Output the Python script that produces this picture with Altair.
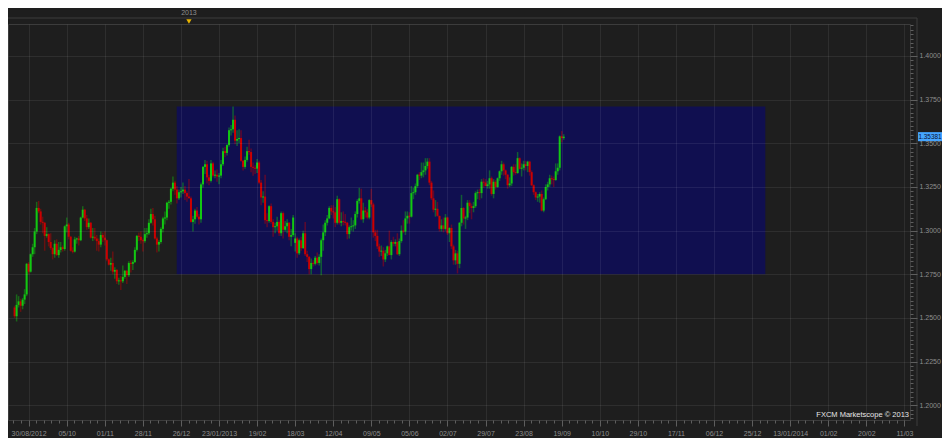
import altair as alt
import pandas as pd
import numpy as np

# ---------------- data (EUR/USD daily, prices in 1/10000) ----------------
OPEN = [12560,12510,12575,12595,12570,12605,12635,12810,12765,12865,12905,12995,13130,13110,13050,13045,12970,12980,12935,12900,
        12865,12925,12860,12890,12905,12895,13025,13035,12965,12885,12880,12950,12955,12945,13075,13120,13070,13020,13045,12960,
        12965,12955,12940,12920,12975,12960,12945,12835,12805,12815,12765,12775,12710,12715,12710,12735,12770,12745,12815,12810,
        12820,12890,12970,12965,12945,12940,12980,12985,13045,13095,13065,12955,12920,12935,13010,13070,13075,13160,13165,13240,
        13275,13235,13185,13220,13225,13235,13215,13195,13185,13050,13065,13115,13080,13065,13265,13365,13380,13305,13285,13385,
        13315,13320,13310,13315,13380,13455,13445,13490,13575,13580,13635,13515,13525,13530,13400,13365,13405,13455,13450,13365,
        13360,13355,13390,13275,13190,13195,13060,13055,13140,13050,13020,13025,13050,12985,13100,13005,13025,13045,12965,12975,
        12930,12955,12870,12945,12900,12985,12865,12850,12780,12815,12810,12845,12815,12850,12945,12990,13045,13070,13130,13110,
        13105,13045,13180,13045,13055,13050,13045,12980,13020,13025,13030,13095,13170,13185,13065,13115,13105,13075,13175,13150,
        12990,12970,12910,12880,12885,12835,12870,12910,12860,12935,12925,12935,12865,12940,13000,12995,13070,13085,13080,13215,
        13220,13255,13320,13315,13335,13345,13370,13395,13275,13185,13120,13125,13085,13010,13030,13010,13075,12985,13015,12910,
        12830,12870,12810,13045,13130,13070,13075,13160,13140,13130,13140,13215,13220,13215,13280,13275,13255,13265,13300,13210,
        13280,13250,13300,13340,13380,13345,13320,13260,13270,13365,13335,13330,13415,13355,13360,13380,13370,13395,13335,13260,
        13220,13190,13195,13210,13115,13180,13250,13265,13300,13295,13290,13340,13360,13540,13530]
HIGH = [12570,12635,12625,12610,12615,12665,12815,12820,12870,12925,13015,13165,13170,13125,13080,13050,13020,12985,12985,12905,
        12945,12950,12935,12935,12915,13030,13075,13045,12970,12905,12965,12960,12970,13080,13140,13125,13090,13070,13050,13015,
        13015,12975,12955,12995,12990,12995,12950,12840,12845,12880,12790,12780,12730,12740,12800,12775,12775,12825,12830,12830,
        12905,12975,12990,12995,12955,13015,13015,13065,13125,13130,13085,12965,12945,13020,13080,13110,13165,13175,13245,13310,
        13285,13255,13235,13250,13275,13255,13225,13295,13195,13085,13125,13135,13095,13275,13370,13405,13400,13320,13405,13395,
        13345,13350,13330,13405,13475,13480,13495,13590,13605,13711,13660,13575,13580,13575,13405,13425,13480,13520,13470,13390,
        13375,13410,13400,13290,13225,13320,13100,13145,13155,13065,13045,13080,13060,13110,13110,13055,13065,13050,13010,13090,
        12985,12965,12955,12965,13000,13050,12885,12855,12840,12830,12855,12875,12865,12955,13035,13060,13090,13140,13145,13145,
        13135,13200,13185,13105,13110,13095,13050,13030,13075,13060,13110,13180,13245,13240,13160,13135,13125,13180,13240,13160,
        13005,13005,12925,12915,12905,12890,12915,13000,12945,12965,12950,12985,12955,13030,13060,13110,13110,13105,13255,13245,
        13270,13325,13335,13390,13390,13415,13415,13415,13285,13230,13175,13165,13085,13065,13075,13095,13080,13020,13035,12920,
        12890,12885,13050,13205,13135,13085,13175,13175,13155,13165,13225,13235,13240,13295,13300,13295,13285,13345,13310,13295,
        13290,13305,13345,13400,13390,13350,13325,13305,13370,13380,13380,13450,13420,13385,13400,13400,13400,13400,13345,13265,
        13225,13210,13220,13230,13190,13265,13280,13320,13315,13310,13385,13385,13545,13570,13552]
LOW = [12500,12480,12560,12535,12550,12580,12625,12750,12760,12850,12865,12980,13100,13035,12985,12885,12960,12910,12890,12835,
       12845,12855,12845,12875,12880,12885,12990,12950,12880,12870,12875,12925,12915,12940,13070,13055,13005,13010,12955,12940,
       12945,12885,12880,12905,12935,12915,12825,12800,12770,12750,12725,12695,12690,12660,12700,12725,12695,12735,12760,12775,
       12815,12880,12940,12925,12880,12930,12960,12975,13040,13030,12950,12875,12880,12925,12990,13035,13060,13125,13150,13225,
       13205,13155,13175,13190,13210,13175,13165,13185,13045,12995,13040,13070,13035,13045,13245,13325,13270,13260,13275,13305,
       13300,13280,13265,13300,13370,13420,13430,13480,13545,13560,13495,13485,13500,13395,13345,13355,13395,13435,13335,13315,
       13325,13330,13265,13145,13160,13040,13020,13045,13040,12965,12985,13000,12970,12970,12955,12995,12985,12945,12910,12965,
       12880,12845,12860,12885,12895,12855,12820,12750,12750,12795,12800,12805,12800,12745,12885,12970,13030,13065,13090,13070,
       13020,13035,13035,13025,13030,13030,12950,12955,13000,12995,13010,13075,13155,13060,13045,13075,13065,13065,13135,12960,
       12940,12895,12850,12855,12795,12820,12855,12860,12835,12910,12910,12860,12855,12930,12985,12975,13040,13040,13075,13180,
       13205,13245,13290,13300,13305,13320,13355,13260,13175,13105,13080,13080,12995,12995,12990,13000,12975,12935,12895,12805,
       12805,12755,12785,13025,13035,13010,13060,13100,13065,13105,13130,13180,13175,13185,13245,13255,13240,13240,13200,13185,
       13235,13245,13285,13320,13315,13295,13240,13250,13255,13315,13320,13325,13350,13310,13345,13345,13335,13315,13255,13205,
       13175,13165,13160,13110,13105,13175,13230,13250,13265,13250,13285,13320,13345,13505,13520]
CLOSE = [12510,12575,12595,12570,12605,12635,12810,12765,12865,12905,12995,13130,13110,13050,13045,12970,12980,12935,12900,12865,
         12925,12860,12890,12905,12895,13025,13035,12965,12885,12880,12950,12955,12945,13075,13120,13070,13020,13045,12960,12965,
         12955,12940,12920,12975,12960,12945,12835,12805,12815,12765,12775,12710,12715,12710,12735,12770,12745,12815,12810,12820,
         12890,12970,12965,12945,12940,12980,12985,13045,13095,13065,12955,12920,12935,13010,13070,13075,13160,13165,13240,13275,
         13235,13185,13220,13225,13235,13215,13195,13185,13050,13065,13115,13080,13065,13265,13365,13380,13305,13285,13385,13315,
         13320,13310,13315,13380,13455,13445,13490,13575,13580,13635,13515,13525,13530,13400,13365,13405,13455,13450,13365,13360,
         13355,13390,13275,13190,13195,13060,13055,13140,13050,13020,13025,13050,12985,13100,13005,13025,13045,12965,12975,13075,
         12955,12870,12945,12900,12985,12865,12850,12780,12815,12810,12845,12815,12850,12945,12990,13045,13070,13130,13110,13105,
         13045,13180,13045,13055,13050,13045,12980,13020,13025,13030,13095,13170,13185,13065,13115,13105,13075,13175,13150,12990,
         12970,12910,12880,12885,12835,12870,12910,12860,12935,12925,12935,12865,12940,13000,12995,13070,13085,13080,13215,13220,
         13255,13320,13315,13335,13345,13370,13395,13275,13185,13120,13125,13085,13010,13030,13010,13075,12985,13015,12910,12830,
         12870,12810,13045,13130,13070,13075,13160,13140,13130,13140,13215,13220,13215,13280,13275,13255,13265,13300,13210,13280,
         13250,13300,13340,13380,13345,13320,13260,13270,13365,13335,13330,13415,13355,13360,13380,13370,13395,13335,13260,13220,
         13190,13195,13210,13115,13180,13250,13265,13300,13295,13290,13340,13360,13540,13530,13538]

HOLIDAYS = ["2012-12-25", "2013-01-01"]          # days without a candle on this feed
X_LABELS = ["30/08/2012", "05/10", "01/11", "28/11", "26/12", "23/01/2013", "19/02", "18/03",
            "12/04", "09/05", "05/06", "02/07", "29/07", "23/08", "19/09", "10/10", "29/10",
            "17/11", "06/12", "25/12", "13/01/2014", "01/02", "20/02", "11/03"]
X_FIRST_TICK = 7      # bar index of the first date label
X_TICK_STEP = 19      # bars between date labels

BOX_BARS = [80.9, 374.6]          # shaded range (bar index)
BOX_PRICE = [1.2750, 1.3711]      # shaded range (price)
YEAR_LABEL = "2013"
YEAR_BAR = 87
LAST_PRICE = 1.35381
COPYRIGHT = "FXCM Marketscope \u00a9 2013"

# ---------------- frame ----------------
dates = pd.bdate_range("2012-08-30", "2013-09-20")
dates = dates[~dates.isin(pd.to_datetime(HOLIDAYS))]
n = len(CLOSE)
assert len(dates) == n == len(OPEN) == len(HIGH) == len(LOW)

df = pd.DataFrame({
    "i": np.arange(n),
    "date": dates.strftime("%Y-%m-%d"),
    "o": np.array(OPEN) / 1e4, "h": np.array(HIGH) / 1e4,
    "l": np.array(LOW) / 1e4, "c": np.array(CLOSE) / 1e4,
})
df["dir"] = np.where(df["c"] >= df["o"], "up", "down")
mid = (df["o"] + df["c"]) / 2
half = np.maximum((df["c"] - df["o"]).abs() / 2, 0.0003)
df["bt"] = mid + half
df["bb"] = mid - half

W, H = 902, 396
BG = "#1e1e1e"
GREEN, RED = "#12c812", "#cc0000"
AX_FONT = "Liberation Sans"

X_SCALE = alt.Scale(domain=[-0.8, 444.3], nice=False, zero=False)
Y_SCALE = alt.Scale(domain=[1.19158, 1.41832], nice=False, zero=False)

x_major = f"abs((datum.value - {X_FIRST_TICK}) / {X_TICK_STEP} - round((datum.value - {X_FIRST_TICK}) / {X_TICK_STEP})) < 0.01"
labels_js = "[" + ",".join(f"'{s}'" for s in X_LABELS) + "]"
x_values = [round(X_FIRST_TICK + X_TICK_STEP / 5 * j, 3) for j in range(-2, 5 * (len(X_LABELS) - 1) + 1)]
X_AXIS = alt.Axis(
    values=x_values, title=None, orient="bottom", domain=False,
    labelExpr=f"{x_major} ? {labels_js}[round((datum.value - {X_FIRST_TICK}) / {X_TICK_STEP})] : ''",
    grid=True, gridColor="#ffffff",
    gridOpacity={"condition": {"test": x_major, "value": 0.075}, "value": 0},
    tickColor="#5e5e5e",
    tickSize={"condition": {"test": x_major, "value": 6}, "value": 3},
    labelColor="#8e8e8e", labelFont=AX_FONT, labelFontSize=7, labelPadding=3,
    labelOverlap=False, zindex=1,
)

y_major = "abs(datum.value * 40 - round(datum.value * 40)) < 0.01"
y_values = [round(v, 4) for v in np.arange(1.1925, 1.4180, 0.0025)]
Y_AXIS = alt.Axis(
    values=y_values, title=None, orient="right", domain=False,
    labelExpr=f"{y_major} ? format(datum.value, '.4f') : ''",
    grid=True, gridColor="#ffffff",
    gridOpacity={"condition": {"test": y_major, "value": 0.075}, "value": 0},
    tickColor="#5e5e5e",
    tickSize={"condition": {"test": y_major, "value": 7}, "value": 3},
    labelColor="#8e8e8e", labelFont=AX_FONT, labelFontSize=7, labelPadding=2,
    labelOverlap=False, zindex=1,
)

def X(field):
    return alt.X(field, type="quantitative", scale=X_SCALE, axis=X_AXIS, title=None)

def Y(field):
    return alt.Y(field, type="quantitative", scale=Y_SCALE, axis=Y_AXIS, title=None)

color = alt.Color("dir:N", scale=alt.Scale(domain=["up", "down"], range=[GREEN, RED]), legend=None)

box_df = pd.DataFrame({"x0": [BOX_BARS[0]], "x1": [BOX_BARS[1]], "p0": [BOX_PRICE[0]], "p1": [BOX_PRICE[1]]})
box = alt.Chart(box_df).mark_rect(color="#100f50").encode(
    x=X("x0"), x2="x1", y=Y("p0"), y2="p1")

wicks = alt.Chart(df).mark_rule(strokeWidth=1.5, opacity=0.42).encode(
    x=X("i"), y=Y("l"), y2="h", color=color)

bodies = alt.Chart(df).mark_bar(size=2).encode(
    x=X("i"), y=Y("bt"), y2="bb", color=color)

one = pd.DataFrame({"k": [0]})
top_line = alt.Chart(one).mark_rule(color="#3c3c3c").encode(
    x=alt.value(0), x2=alt.value(W + 7), y=alt.value(-6))
right_line = alt.Chart(one).mark_rule(color="#3c3c3c").encode(
    x=alt.value(W + 7), y=alt.value(-6), y2=alt.value(H + 6))

year_df = pd.DataFrame({"i": [YEAR_BAR], "t": [YEAR_LABEL]})
year_text = alt.Chart(year_df).mark_text(
    font=AX_FONT, fontSize=7, color="#8e8e8e", baseline="middle").encode(
    x=X("i"), y=alt.value(-11), text="t:N")
year_tri = alt.Chart(year_df).mark_point(
    shape="triangle-down", filled=True, size=28, color="#e8b400", opacity=1).encode(
    x=X("i"), y=alt.value(-2.5))

flag_df = pd.DataFrame({"p": [LAST_PRICE], "lo": [LAST_PRICE - 0.0026], "hi": [LAST_PRICE + 0.0026],
                        "t": [f"{LAST_PRICE:.5f}"]})
flag_box = alt.Chart(flag_df).mark_rect(color="#45a5ff").encode(
    x=alt.value(W + 8), x2=alt.value(W + 32), y=Y("lo"), y2="hi")
flag_text = alt.Chart(flag_df).mark_text(
    font=AX_FONT, fontSize=6.4, color="#0a1030", align="center", baseline="middle").encode(
    x=alt.value(W + 20), y=Y("p"), text="t:N")

copy_text = alt.Chart(pd.DataFrame({"t": [COPYRIGHT]})).mark_text(
    font=AX_FONT, fontSize=7.5, color="#e6e6e6", align="right", baseline="alphabetic").encode(
    x=alt.value(W - 1), y=alt.value(H - 3), text="t:N")

chart = alt.layer(
    box, wicks, bodies, top_line, right_line, year_text, year_tri, flag_box, flag_text, copy_text
).properties(
    width=W, height=H, background=BG,
    padding={"left": 0, "top": 16, "right": 32, "bottom": 18},
    autosize=alt.AutoSizeParams(type="none"),
).configure_view(stroke="#3c3c3c", strokeWidth=1)

chart.save("out.html", embed_options={"renderer": "svg", "actions": False})
